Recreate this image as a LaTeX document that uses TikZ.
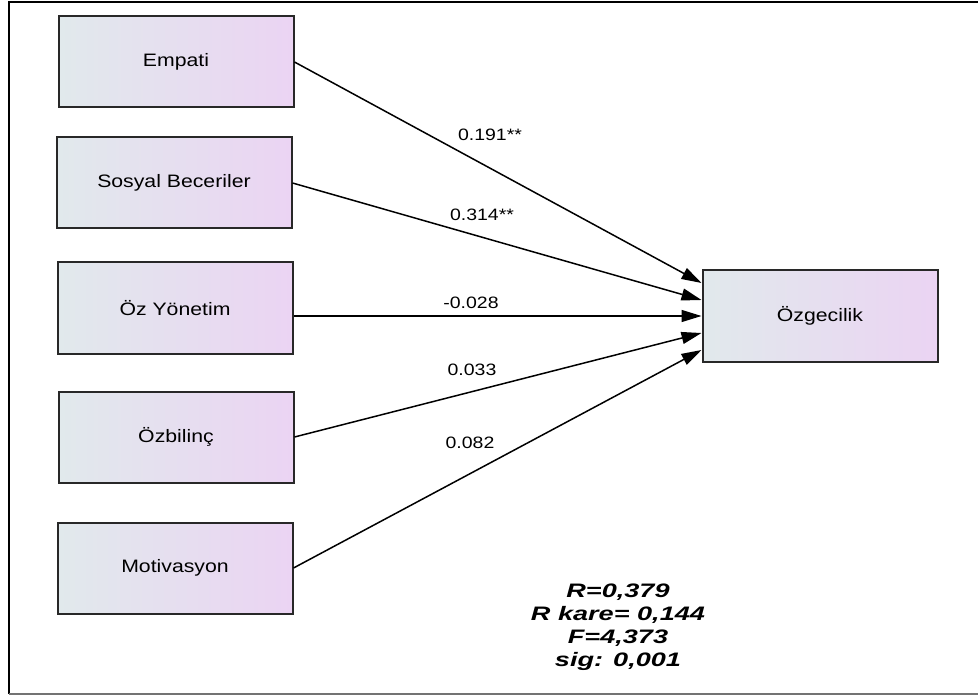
\documentclass[tikz,border=0pt]{standalone}
\usepackage{fontspec}
\usepackage{xcolor}
\usetikzlibrary{arrows.meta}
\newfontfamily\boxfont{Liberation Sans}[FakeStretch=1.18]
\newfontfamily\statfont{Liberation Sans}[FakeStretch=1.39]
\definecolor{boxleft}{RGB}{225,233,236}
\definecolor{boxright}{RGB}{235,212,243}
\definecolor{boxedge}{RGB}{40,40,40}

\begin{document}
\begin{tikzpicture}[
    x=1pt, y=-1pt,
    % Style for the variable boxes
    varbox/.style={
        rectangle, draw=boxedge, line width=2pt,
        left color=boxleft, right color=boxright,
        minimum width=235pt, minimum height=91pt,
        font=\boxfont\fontsize{18}{22}\selectfont
    },
    coef/.style={font=\boxfont\fontsize{16.5}{20}\selectfont, inner sep=0pt},
    path arrow/.style={line width=1.5pt, -{Triangle[length=20pt, width=12pt]}}
]
    \useasboundingbox (0,0) rectangle (978,695);

    % Frame
    \draw[line width=2pt] (990,2) -- (9,2) -- (9,694);
    \draw[line width=2pt, black!55] (9,694) -- (990,694);

    % Predictors
    \node[varbox] (empati) at (176,62) {Empati};
    \node[varbox] (sosyal) at (174,183) {Sosyal Beceriler};
    \node[varbox] (ozyon) at (175,308) {Öz Yönetim};
    \node[varbox] (ozbil) at (176,437) {Özbilinç};
    \node[varbox] (motiv) at (175,568) {Motivasyon};

    % Outcome
    \node[varbox] (ozgec) at (820,316) {Özgecilik};

    % Paths
    \draw[path arrow] (empati.east) -- ([yshift=33pt]ozgec.west);
    \draw[path arrow] (sosyal.east) -- ([yshift=16pt]ozgec.west);
    \draw[path arrow] ([yshift=-8pt]ozyon.east) -- (ozgec.west);
    \draw[path arrow] (ozbil.east) -- ([yshift=-17pt]ozgec.west);
    \draw[path arrow] (motiv.east) -- ([yshift=-34pt]ozgec.west);

    % Coefficients
    \node[coef] (c1) at (490,135) {0.191**};
    \node[coef] (c2) at (482,215) {0.314**};
    \node[coef] (c3) at (471,303) {-0.028};
    \node[coef] (c4) at (472,370) {0.033};
    \node[coef] (c5) at (470,443) {0.082};

    % Model summary
    \node[align=center, inner sep=0pt, font=\statfont\bfseries\itshape\fontsize{19.5}{23}\selectfont]
        (stats) at (618,627) {R=0,379\\R kare= 0,144\\F=4,373\\sig: 0,001};

\end{tikzpicture}
\end{document}
